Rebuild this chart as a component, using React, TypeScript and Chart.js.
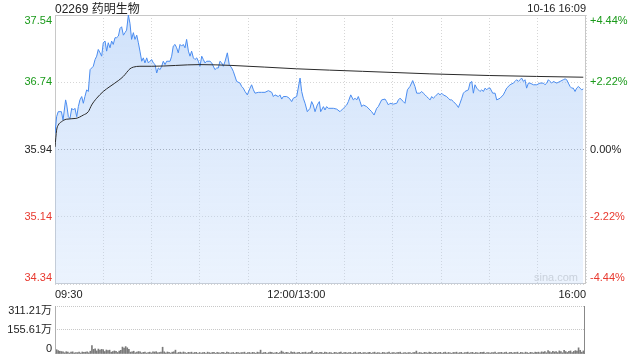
import React, { useEffect, useRef } from "react";
import { Chart, registerables } from "chart.js";

Chart.register(...registerables);

const FONT = '"Liberation Sans", Arial, "Noto Sans CJK SC", sans-serif';
const GREEN = "#1a9a1a";
const RED = "#e8392f";

const title = "02269 药明生物";
const stamp = "10-16 16:09";
const prevClose = 35.94;
const priceTicks = [37.54, 36.74, 35.94, 35.14, 34.34];
const pctTicks = ["+4.44%", "+2.22%", "0.00%", "-2.22%", "-4.44%"];
const timeLabels = ["09:30", "12:00/13:00", "16:00"];
const timeLabelMinutes = [0, 150, 330];
const volumeTicks = [311.21, 155.61, 0];
const volumeTickLabels = ["311.21万", "155.61万", "0"];

// minutes since 09:30 (lunch break removed)
const priceMinutes = [
  0, 1, 2, 4, 5, 6.6, 7.3, 8.3, 9.3, 10.4, 11.4, 12.4, 13.5, 14.5, 15.5, 16.6, 17.6, 18.6, 19.7, 20.7,
  21.8, 22.8, 23.8, 24.9, 25.9, 26.9, 28, 29, 30, 31.1, 32.1, 33.1, 34.2, 35.2, 36.2, 37.3, 38.3, 39.4, 40.4, 41.4,
  42.5, 43.5, 44.5, 45.6, 46.6, 47.6, 48.7, 49.7, 50.8, 51.8, 52.8, 53.9, 54.9, 55.9, 57, 58, 59, 60.1, 61.1, 62.2,
  63.2, 64.2, 65.3, 66.3, 67.3, 68.4, 69.4, 71.5, 72.5, 73.5, 74.6, 75.6, 76.6, 77.7, 78.7, 79.7, 80.8, 81.8, 82.9, 83.9,
  84.9, 86, 87, 88.1, 89.1, 90.1, 91.2, 92.2, 93.2, 94.3, 96.3, 97.4, 99.4, 100.5, 101.5, 102.5, 103.6, 104.6, 105.7, 107.1,
  108.3, 109.8, 110.8, 112.9, 115, 116, 117, 118.1, 119.5, 121.2, 122.2, 123.3, 124.3, 126.4, 128.4, 130.5, 132.6, 134.7, 135.7, 136.7,
  138.8, 139.8, 140.9, 141.9, 144, 145.6, 147.1, 148.1, 150.2, 152.3, 153.3, 154.3, 155.4, 156.8, 158.5, 159.5, 160.5, 161.6, 163, 164.3,
  165.1, 166.8, 167.8, 168.8, 169.9, 170.9, 173, 175.1, 177.1, 179.2, 181.3, 182.3, 183.8, 185.4, 186.5, 187.5, 188.5, 189.6, 190.6, 191.6,
  193.7, 195.8, 196.8, 198.3, 199.9, 200.9, 203, 205.1, 206.1, 207.2, 208.2, 210.3, 212.4, 213.4, 214.4, 216.5, 217.5, 219, 220.6, 222.3,
  223.7, 224.8, 226.8, 227.9, 228.9, 230, 231, 232, 233.1, 234.1, 235.1, 236.2, 238.2, 239.3, 240.3, 241.3, 243.4, 244.4, 245.5, 246.5,
  247.6, 249.6, 250.7, 251.7, 252.8, 253.8, 254.8, 256.9, 257.9, 259, 260, 261, 262.1, 263.1, 264.1, 265.2, 266.2, 267.3, 268.3, 269.3,
  270.4, 272, 273.5, 274.5, 276.6, 278.6, 279.7, 280.7, 282.8, 284.8, 285.9, 286.9, 288, 289, 290, 291.1, 292.1, 293.1, 294.2, 295.2,
  297.3, 299.4, 301.4, 303.5, 304.5, 305.6, 306.6, 307.6, 308.7, 309.7, 311.8, 313.9, 315.9, 317, 318, 319, 320.1, 321.1, 322.1, 323.2,
  324.2, 325.3, 326.3, 327.3, 328.3,
];
const priceValues = [
  36.13, 36.33, 36.39, 36.39, 36.29, 36.53, 36.47, 36.33, 36.31, 36.43, 36.41, 36.43, 36.33, 36.45, 36.53, 36.57, 36.49, 36.57, 36.65, 36.63,
  36.89, 36.91, 36.93, 37.01, 37.05, 37.13, 37.09, 37.05, 37.21, 37.23, 37.11, 37.21, 37.15, 37.23, 37.19, 37.27, 37.27, 37.29, 37.38, 37.4,
  37.3, 37.33, 37.36, 37.54, 37.44, 37.25, 37.33, 37.25, 37.3, 37.21, 37.11, 36.99, 37.03, 36.97, 37.03, 36.97, 36.99, 37.01, 36.97, 36.95,
  36.85, 36.91, 36.89, 36.93, 36.99, 36.95, 36.99, 36.99, 37.05, 37.17, 37.19, 37.15, 37.09, 37.19, 37.17, 37.19, 37.15, 37.25, 37.11, 37.05,
  37.11, 37.03, 37.01, 37.03, 36.99, 36.93, 37.05, 37.01, 36.97, 36.99, 36.99, 36.97, 36.89, 36.91, 36.91, 36.99, 36.97, 36.93, 36.99, 37.09,
  36.95, 36.91, 36.87, 36.75, 36.73, 36.69, 36.67, 36.63, 36.59, 36.67, 36.71, 36.65, 36.61, 36.62, 36.62, 36.62, 36.64, 36.62, 36.57, 36.59,
  36.57, 36.59, 36.54, 36.57, 36.57, 36.55, 36.51, 36.55, 36.57, 36.79, 36.63, 36.55, 36.49, 36.39, 36.43, 36.51, 36.47, 36.39, 36.47, 36.51,
  36.39, 36.45, 36.41, 36.45, 36.43, 36.43, 36.43, 36.42, 36.39, 36.43, 36.47, 36.51, 36.59, 36.53, 36.55, 36.53, 36.57, 36.51, 36.45, 36.47,
  36.45, 36.41, 36.39, 36.35, 36.43, 36.45, 36.53, 36.54, 36.51, 36.47, 36.49, 36.48, 36.49, 36.53, 36.55, 36.51, 36.49, 36.65, 36.69, 36.76,
  36.69, 36.61, 36.61, 36.63, 36.61, 36.59, 36.57, 36.55, 36.53, 36.57, 36.55, 36.57, 36.61, 36.59, 36.61, 36.59, 36.57, 36.55, 36.53, 36.53,
  36.51, 36.47, 36.44, 36.49, 36.55, 36.61, 36.63, 36.65, 36.73, 36.75, 36.61, 36.71, 36.67, 36.65, 36.63, 36.65, 36.63, 36.67, 36.65, 36.67,
  36.67, 36.61, 36.61, 36.53, 36.55, 36.59, 36.63, 36.67, 36.71, 36.73, 36.75, 36.77, 36.75, 36.77, 36.79, 36.75, 36.77, 36.67, 36.73, 36.73,
  36.71, 36.71, 36.73, 36.73, 36.71, 36.73, 36.77, 36.75, 36.73, 36.75, 36.73, 36.75, 36.77, 36.78, 36.77, 36.73, 36.69, 36.67, 36.67, 36.63,
  36.67, 36.69, 36.67, 36.65, 36.66,
];

const avgMinutes = [0, 1, 2, 4, 7, 13, 17.6, 20.7, 22.8, 25.9, 30, 34.2, 39.4, 42.5, 46.6, 48.7, 52.8, 60, 90, 110, 150, 191, 233, 270, 328.3];
const avgValues = [35.97, 36.17, 36.23, 36.27, 36.3, 36.31, 36.35, 36.39, 36.47, 36.55, 36.63, 36.69, 36.76, 36.81, 36.9, 36.92, 36.93, 36.93, 36.95, 36.94, 36.9, 36.87, 36.84, 36.82, 36.8];

// volume per minute (万股), index = minute
const volumeValues = [
  45, 28, 22, 18, 16, 14, 8, 15, 13, 6, 12, 14, 7, 10, 9, 12, 6, 13, 11, 12, 14, 8, 18, 55, 30, 34, 20, 32, 26, 30,
  28, 16, 26, 22, 25, 12, 16, 20, 17, 10, 19, 24, 45, 38, 48, 40, 30, 12, 14, 18, 8, 13, 16, 14, 7, 11, 13, 6, 10, 12,
  7, 14, 13, 15, 8, 10, 13, 44, 14, 7, 13, 11, 6, 12, 14, 25, 6, 10, 12, 7, 13, 10, 5, 11, 10, 12, 6, 10, 11, 5,
  10, 6, 9, 11, 5, 12, 9, 6, 10, 11, 5, 10, 8, 6, 11, 10, 5, 12, 10, 6, 8, 10, 5, 11, 10, 6, 9, 10, 12, 5,
  9, 10, 6, 11, 9, 5, 12, 9, 25, 6, 9, 11, 5, 9, 12, 10, 6, 8, 11, 5, 9, 19, 12, 6, 11, 10, 5, 14, 10, 12,
  6, 9, 11, 5, 10, 9, 12, 6, 9, 11, 19, 5, 8, 10, 6, 11, 10, 5, 12, 10, 6, 10, 8, 5, 11, 10, 6, 10, 12, 5,
  9, 10, 6, 9, 10, 5, 9, 12, 6, 9, 11, 5, 9, 10, 6, 9, 11, 5, 9, 12, 6, 9, 8, 5, 11, 9, 6, 9, 12, 5,
  9, 10, 6, 9, 10, 12, 5, 8, 10, 6, 9, 10, 5, 9, 10, 19, 6, 10, 8, 5, 11, 10, 6, 12, 10, 5, 10, 11, 6, 10,
  11, 5, 10, 12, 6, 10, 8, 5, 10, 9, 12, 6, 9, 11, 5, 9, 10, 12, 6, 10, 11, 5, 10, 8, 6, 11, 10, 12, 5, 10,
  9, 6, 10, 9, 12, 5, 9, 10, 11, 6, 10, 12, 5, 10, 11, 6, 10, 9, 12, 5, 11, 9, 6, 12, 9, 5, 11, 9, 6, 12,
  10, 12, 7, 14, 12, 16, 8, 22, 15, 9, 18, 13, 16, 9, 20, 15, 8, 24, 16, 10, 18, 20, 9, 17, 22, 19, 40, 24, 12, 20, 16,
];

const clamp = (v: number, lo: number, hi: number) => Math.min(Math.max(v, lo), hi);

const mainDecor = {
  id: "mainDecor",
  beforeDatasetsDraw(chart: any) {
    const { ctx, chartArea: a } = chart;
    ctx.save();
    ctx.strokeStyle = "#c8c8c8";
    ctx.lineWidth = 1;
    ctx.strokeRect(Math.round(a.left) + 0.5, Math.round(a.top) + 0.5, Math.round(a.right - a.left) - 1, Math.round(a.bottom - a.top) - 1);
    ctx.font = `11px ${FONT}`;
    ctx.fillStyle = "#cfcfcf";
    ctx.textAlign = "right";
    ctx.textBaseline = "middle";
    ctx.fillText("sina.com", a.right - 8, a.bottom - 6);
    ctx.restore();
  },
  afterDraw(chart: any) {
    const { ctx, chartArea: a } = chart;
    const ys = chart.scales.y;
    const xs = chart.scales.x;
    ctx.save();
    ctx.textBaseline = "middle";
    ctx.font = `11px ${FONT}`;
    priceTicks.forEach((v, i) => {
      const py = clamp(ys.getPixelForValue(v), a.top + 5.5, a.bottom - 6);
      ctx.fillStyle = v > prevClose + 1e-6 ? GREEN : v < prevClose - 1e-6 ? RED : "#222";
      ctx.textAlign = "right";
      ctx.fillText(v.toFixed(2), a.left - 3, py);
      ctx.textAlign = "left";
      ctx.fillText(pctTicks[i], a.right + 4, py);
    });
    ctx.fillStyle = "#222";
    timeLabels.forEach((t, i) => {
      const px = xs.getPixelForValue(timeLabelMinutes[i]);
      ctx.textAlign = i === 0 ? "left" : i === timeLabels.length - 1 ? "right" : "center";
      ctx.fillText(t, px, a.bottom + 10.5);
    });
    ctx.textAlign = "right";
    ctx.fillText(stamp, a.right, 9);
    ctx.font = `12px ${FONT}`;
    ctx.textAlign = "left";
    ctx.fillText(title, a.left, 9.5);
    ctx.restore();
  },
};

const volDecor = {
  id: "volDecor",
  afterDraw(chart: any) {
    const { ctx, chartArea: a } = chart;
    const ys = chart.scales.y;
    ctx.save();
    ctx.strokeStyle = "#b0b0b0";
    ctx.lineWidth = 1;
    ctx.beginPath();
    ctx.moveTo(Math.round(a.left) + 0.5, a.top);
    ctx.lineTo(Math.round(a.left) + 0.5, a.bottom);
    ctx.stroke();
    ctx.strokeStyle = "#888";
    ctx.beginPath();
    ctx.moveTo(Math.round(a.right) - 0.5, a.top);
    ctx.lineTo(Math.round(a.right) - 0.5, a.bottom);
    ctx.stroke();
    ctx.font = `11px ${FONT}`;
    ctx.fillStyle = "#222";
    ctx.textAlign = "right";
    ctx.textBaseline = "middle";
    volumeTicks.forEach((v, i) => {
      const py = clamp(ys.getPixelForValue(v), a.top + 4.5, a.bottom - 5.5);
      ctx.fillText(volumeTickLabels[i], a.left - 3, py);
    });
    ctx.restore();
  },
};

export default function App() {
  const mainRef = useRef<HTMLCanvasElement>(null);
  const volRef = useRef<HTMLCanvasElement>(null);

  useEffect(() => {
    if (!mainRef.current || !volRef.current) return;

    const main = new Chart(mainRef.current, {
      type: "line",
      data: {
        datasets: [
          {
            data: avgMinutes.map((m, i) => ({ x: m, y: avgValues[i] })),
            borderColor: "#2a2a2a",
            borderWidth: 1,
            pointRadius: 0,
            fill: false,
            cubicInterpolationMode: "monotone",
            order: 0,
          },
          {
            data: priceMinutes.map((m, i) => ({ x: m, y: priceValues[i] })),
            borderColor: "#4a8cf0",
            borderWidth: 1,
            pointRadius: 0,
            tension: 0,
            fill: "start",
            order: 1,
            backgroundColor: (c: any) => {
              const chart = c.chart;
              const area = chart.chartArea;
              if (!area) return "rgba(170,200,245,0.4)";
              const g = chart.ctx.createLinearGradient(0, area.top, 0, area.bottom);
              g.addColorStop(0, "rgba(150,190,245,0.45)");
              g.addColorStop(1, "rgba(190,215,250,0.3)");
              return g;
            },
          },
        ],
      },
      options: {
        animation: false,
        responsive: false,
        devicePixelRatio: 1,
        layout: { padding: { left: 55, right: 54, top: 15, bottom: 16 } },
        plugins: { legend: { display: false }, tooltip: { enabled: false } },
        scales: {
          x: {
            type: "linear",
            min: 0,
            max: 330,
            ticks: { display: false, stepSize: 30 },
            grid: { drawTicks: false, color: "#d6d6d6" },
            border: { display: false, dash: [1, 2] },
          },
          y: {
            type: "linear",
            min: 34.34,
            max: 37.54,
            afterBuildTicks: (s: any) => {
              s.ticks = priceTicks.map((v) => ({ value: v }));
            },
            ticks: { display: false },
            grid: {
              drawTicks: false,
              color: (c: any) => (c.tick && Math.abs(c.tick.value - prevClose) < 1e-6 ? "#a0a0a0" : "#d6d6d6"),
            },
            border: { display: false, dash: [1, 2] },
          },
        },
      },
      plugins: [mainDecor],
    } as any);

    const vol = new Chart(volRef.current, {
      type: "bar",
      data: {
        datasets: [
          {
            data: volumeValues.map((v, i) => ({ x: i, y: v })),
            backgroundColor: "#7a7a7a",
            barThickness: 1,
          },
        ],
      },
      options: {
        animation: false,
        responsive: false,
        devicePixelRatio: 1,
        layout: { padding: { left: 55, right: 55, top: 6, bottom: 6 } },
        plugins: { legend: { display: false }, tooltip: { enabled: false } },
        scales: {
          x: { type: "linear", min: 0, max: 330, display: false, offset: false },
          y: {
            type: "linear",
            min: 0,
            max: 311.21,
            afterBuildTicks: (s: any) => {
              s.ticks = volumeTicks.map((v) => ({ value: v }));
            },
            ticks: { display: false },
            grid: {
              drawTicks: false,
              color: (c: any) => (c.tick && c.tick.value === 0 ? "rgba(0,0,0,0)" : "#c8c8c8"),
            },
            border: { display: false, dash: [1, 1] },
          },
        },
      },
      plugins: [volDecor],
    } as any);

    return () => {
      main.destroy();
      vol.destroy();
    };
  }, []);

  return (
    <div style={{ position: "absolute", left: 0, top: 0, width: 640, height: 360, background: "#fff" }}>
      <canvas ref={mainRef} width={640} height={300} style={{ position: "absolute", left: 0, top: 0, width: 640, height: 300 }} />
      <canvas ref={volRef} width={640} height={60} style={{ position: "absolute", left: 0, top: 300, width: 640, height: 60 }} />
    </div>
  );
}
